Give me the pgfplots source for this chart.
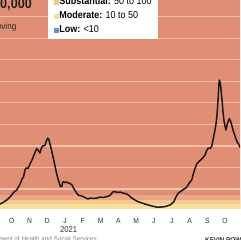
\documentclass[border=0pt]{standalone}
\usepackage{fontspec}
\setmainfont{Liberation Sans}[FakeStretch=0.9]
\usepackage{pgfplots}
\usepackage{pgfplotstable}
\pgfplotsset{compat=1.18}
\definecolor{vhigh}{HTML}{E08F75}
\definecolor{high}{HTML}{EBA688}
\definecolor{subst}{HTML}{F6C78D}
\definecolor{moder}{HTML}{F9E097}
\definecolor{lowc}{HTML}{5F93CD}
\definecolor{gridc}{HTML}{F3C2A6}
\definecolor{tickc}{HTML}{333333}

\pgfplotstableread{
x y
-20 2
-10 3
0 5
3 6.5
6.7 9
9 11
11.7 14
14 17
16.7 19
19 23
21 27
22 30
23.5 32
25 39
26 41
28 40.5
30 45
32 49
34 54
36.7 60.5
38 59
40 56
41 60
42.7 63
45 63.5
46 67
47.7 71
49 69
50 65
51.5 59
53.3 51
55 43
56.7 35
58 30
59.3 26
60.5 22.5
61.7 22.3
62.5 26
63.5 27.5
65 26.5
66.7 27
68.3 26
70 25.5
72 24
73.5 21
75 18.5
76.7 16
78 14
80 13.5
83 12.5
85 11.5
88 10
90 11
93 10.5
97 11
100 12
103 11.5
107 12.5
110 13.5
112 16
113.5 17.5
116 17
118 16.5
120 17
123 16
126.7 15
129 13.5
131.7 11
135 9
138 7.3
142 6
146 4.7
150 3.5
154 2.5
158 1.7
161 2
164 2.2
167 3
170 4
172 5.5
174 7.5
175.5 11
177 14
178.5 16
180 17
182 18.5
184 20
186 21
188 24
190 27
191.7 29
193 34
194.5 39
196.7 45
198.5 47
200 48.5
201.7 50
203.5 52
205 54
206.5 58
208.3 61
210 60.5
211.7 62.5
213 69
214 74
215 79
216 85
216.7 91
217.5 101
218.3 113
218.8 123
219.3 129
220 127
220.7 123
221.5 114
222.3 106
223 97
224 88
225 83
226 79
227 84
228 87
229.3 90.5
230.5 88
231.7 84
233 79
235 73
236.3 69
237.3 67
238.5 65
240 62
243 59
250 55
260 50
}\cases

\begin{document}
\begin{tikzpicture}
\path[use as bounding box] (0,0) rectangle (240pt,240pt);
\clip (0,0) rectangle (240pt,240pt);
\begin{axis}[
  x=1pt, y=1pt,
  xmin=-20, xmax=260, ymin=0, ymax=229,
  at={(-20pt,31pt)}, anchor=south west,
  axis line style={draw=none},
  major tick length=0pt,
  axis background/.style={fill=vhigh},
  ytick={19.9,41.5,63.0,84.6,106.1,127.7,149.3,170.8,192.4,214},
  yticklabels={},
  ymajorgrids, grid style={gridc, line width=1.2pt},
  xtick={11.7,29.5,47.3,65.0,82.8,100.6,118.4,136.2,153.9,171.7,189.5,207.3,225.1},
  xticklabels={O,N,D,J,F,M,A,M,J,J,A,S,O},
  xticklabel style={font=\fontsize{7.5}{9}\selectfont, text=tickc, yshift=-6pt},
  legend cell align=left,
  legend style={at={(axis cs:48,170)}, anchor=south west, draw=none, fill=white,
    inner xsep=6.3pt, inner ysep=4pt, outer sep=0pt,
    font=\fontsize{10}{11}\selectfont, row sep=4.3pt,
    nodes={inner sep=0pt, text height=7.5pt, text depth=2.2pt},
    /tikz/every even column/.append style={column sep=3.4pt}},
]
\addplot[draw=none, fill=high, forget plot] coordinates {(-20,14) (260,14)} \closedcycle;
\addplot[draw=none, fill=subst, forget plot] coordinates {(-20,9) (260,9)} \closedcycle;
\addplot[draw=none, fill=moder, forget plot] coordinates {(-20,4.7) (260,4.7)} \closedcycle;
\addplot[black!90, line width=1.5pt, line join=round, forget plot] table[x=x, y=y] {\cases};
\addlegendimage{legend image code/.code={\fill[draw=none, fill=high] (0pt,-2.5pt) rectangle (5pt,2.5pt);}}
\addlegendentry{\textbf{High:} 100 or more}
\addlegendimage{legend image code/.code={\fill[draw=none, fill=subst] (0pt,-2.5pt) rectangle (5pt,2.5pt);}}
\addlegendentry{\textbf{Substantial:} 50 to 100}
\addlegendimage{legend image code/.code={\fill[draw=none, fill=moder] (0pt,-2.5pt) rectangle (5pt,2.5pt);}}
\addlegendentry{\textbf{Moderate:} 10 to 50}
\addlegendimage{legend image code/.code={\fill[draw=none, fill=lowc] (0pt,-2.5pt) rectangle (5pt,2.5pt);}}
\addlegendentry{\textbf{Low:} <10}
\end{axis}
\node[anchor=base east, font=\fontsize{14}{16}\selectfont\bfseries, text=black!88, inner sep=0pt] at (32pt,231.7pt) {Cases per 100,000};
\node[anchor=base east, font=\fontsize{9}{11}\selectfont, text=black!85, inner sep=0pt] at (16.5pt,210pt) {Seven-day moving};
\node[font=\fontsize{8.5}{10}\selectfont, text=tickc, inner sep=0pt] at (68.7pt,10.3pt) {2021};
\node[anchor=base east, font=\fontsize{7}{8}\selectfont, text=black!50, inner sep=0pt] at (97pt,-1.7pt) {Source: Alaska Department of Health and Social Services};
\node[anchor=base west, font=\fontsize{7}{8}\selectfont\bfseries, text=black!80, inner sep=0pt] at (205pt,-2.3pt) {KEVIN POWELL / ADN};
\end{tikzpicture}
\end{document}
